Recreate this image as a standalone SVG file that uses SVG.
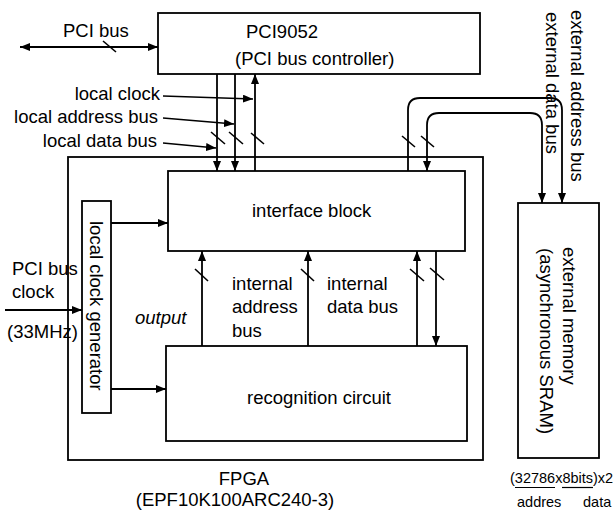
<svg xmlns="http://www.w3.org/2000/svg" width="616" height="514" viewBox="0 0 616 514">
<defs>
<marker id="ah" viewBox="0 0 10 8" refX="10" refY="4" markerWidth="10" markerHeight="8" markerUnits="userSpaceOnUse" orient="auto-start-reverse"><path d="M0,0 L10,4 L0,8 z" fill="#000"/></marker>
<style>
text{font-family:"Liberation Sans",Arial,sans-serif;font-size:18.5px;fill:#000}
.sm{font-size:14.5px}
.box{fill:none;stroke:#000;stroke-width:1.8}
.ln{fill:none;stroke:#000;stroke-width:1.2}
.ar{fill:none;stroke:#000;stroke-width:1.8;marker-end:url(#ah)}
.ar2{fill:none;stroke:#000;stroke-width:1.8;marker-start:url(#ah);marker-end:url(#ah)}
.sl{stroke:#000;stroke-width:1.6}
.thin{fill:none;stroke:#000;stroke-width:1.3;marker-end:url(#ah)}
</style>
</defs>
<rect width="616" height="514" fill="#fff"/>

<g id="pci9052">
<rect class="box" x="158" y="13" width="322" height="61"/>
<text x="246" y="38">PCI9052</text>
<text x="235" y="65">(PCI bus controller)</text>
</g>

<g id="fpga">
<rect class="box" x="68" y="157" width="415" height="303"/>
<text x="244" y="485" text-anchor="middle">FPGA</text>
<text x="235" y="506" text-anchor="middle">(EPF10K100ARC240-3)</text>
</g>

<g id="interface-block">
<rect class="box" x="168" y="171" width="297" height="80"/>
<text x="252" y="217">interface block</text>
</g>

<g id="recognition-circuit">
<rect class="box" x="166" y="346" width="301" height="95"/>
<text x="247" y="404">recognition circuit</text>
</g>

<g id="local-clock-generator">
<rect class="box" x="82" y="201" width="29" height="212"/>
<text transform="translate(90,221) rotate(90)">local clock generator</text>
</g>

<g id="external-memory">
<rect class="box" x="518" y="203" width="81" height="255"/>
<text transform="translate(563,247) rotate(90)">external memory</text>
<text transform="translate(540,248) rotate(90)">(asynchronous SRAM)</text>
<text class="sm" x="510" y="483">(32786x8bits)x2</text>
<line class="ln" x1="515" y1="487.5" x2="555" y2="487.5"/>
<line class="ln" x1="562" y1="487.5" x2="593" y2="487.5"/>
<text class="sm" x="517" y="507">addres</text>
<text class="sm" x="583" y="507">data</text>
</g>

<g id="connectors">
<!-- PCI bus -->
<line class="ar2" x1="20" y1="47" x2="158" y2="47"/>
<line class="sl" x1="103" y1="41" x2="116" y2="52"/>
<text x="63" y="37">PCI bus</text>

<!-- local buses -->
<path class="ar" d="M217,74 V171"/>
<path class="ar" d="M235,74 V171"/>
<path class="ar" d="M255,171 V74"/>
<line class="sl" x1="211" y1="132" x2="225" y2="144"/>
<line class="sl" x1="229" y1="132" x2="243" y2="144"/>
<line class="sl" x1="251" y1="133" x2="264" y2="144"/>
<line class="thin" x1="163" y1="96" x2="253" y2="99"/>
<line class="thin" x1="163" y1="118" x2="234" y2="124"/>
<line class="thin" x1="163" y1="143" x2="216" y2="148"/>
<text x="160" y="100" text-anchor="end">local clock</text>
<text x="158" y="123" text-anchor="end">local address bus</text>
<text x="157" y="147" text-anchor="end">local data bus</text>

<!-- clock -->
<line class="ar" x1="5" y1="310" x2="82" y2="310"/>
<text x="12" y="275">PCI bus</text>
<text x="12" y="298">clock</text>
<text x="7" y="338">(33MHz)</text>
<line class="ar" x1="111" y1="223" x2="168" y2="223"/>
<line class="ar" x1="111" y1="389" x2="166" y2="389"/>
<text x="135" y="324" font-style="italic">output</text>

<!-- internal buses -->
<path class="ar" d="M202,346 V251"/>
<path class="ar" d="M308,346 V251"/>
<path class="ar" d="M417,346 V251"/>
<path class="ar" d="M436,251 V346"/>
<line class="sl" x1="195" y1="269" x2="208" y2="281"/>
<line class="sl" x1="301" y1="269" x2="314" y2="281"/>
<line class="sl" x1="410" y1="269" x2="424" y2="281"/>
<line class="sl" x1="430" y1="268" x2="444" y2="280"/>
<text x="232" y="290">internal</text>
<text x="232" y="313">address</text>
<text x="232" y="337">bus</text>
<text x="327" y="290">internal</text>
<text x="327" y="313">data bus</text>

<!-- external buses -->
<path class="ar" d="M408,171 V110 Q408,98 420,98 H550 Q562,98 562,110 V203"/>
<path class="ar2" d="M427,171 V125 Q427,113 439,113 H530 Q542,113 542,125 V203"/>
<line class="sl" x1="402" y1="136" x2="415" y2="147"/>
<line class="sl" x1="421" y1="136" x2="434" y2="147"/>
<text transform="translate(571,10) rotate(90)">external address bus</text>
<text transform="translate(546,12) rotate(90)">external data bus</text>
</g>
</svg>
